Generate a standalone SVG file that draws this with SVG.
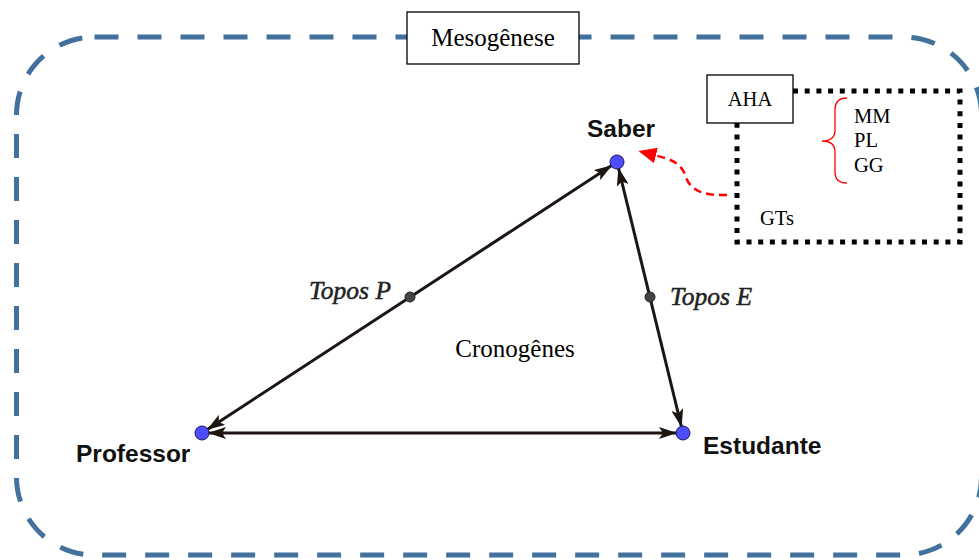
<svg xmlns="http://www.w3.org/2000/svg" width="979" height="559" viewBox="0 0 979 559">
<style>
.tnr{font-family:"Liberation Serif","Times New Roman",serif;fill:#000}
.lab{font-family:"Liberation Sans",Arial,sans-serif;font-weight:bold;font-size:24.5px;fill:#111}
.topos{font-family:"Liberation Serif","Times New Roman",serif;font-style:italic;font-size:25.5px;fill:#222;stroke:#222;stroke-width:0.5}
.edge{stroke:#1c1512;stroke-width:3;fill:none;marker-start:url(#ah);marker-end:url(#ah)}
.pt{fill:#4d4dff;stroke:#1a1a55;stroke-width:1}
.mid{fill:#444;stroke:#222;stroke-width:1}
</style>
<defs>
<marker id="ah" viewBox="0 0 18 12" refX="24" refY="6" markerWidth="18" markerHeight="12" markerUnits="userSpaceOnUse" orient="auto-start-reverse">
<path d="M0,0 L18,6 L0,12 L4,6 Z" fill="#1c1512"/>
</marker>
<marker id="rh" viewBox="0 0 18 16" refX="2" refY="8" markerWidth="18" markerHeight="16" markerUnits="userSpaceOnUse" orient="auto">
<path d="M0,0 L18,8 L0,16 Z" fill="#ff0000"/>
</marker>
</defs>
<rect width="979" height="559" fill="#fff"/>
<g id="mesogenese-frame">
<rect x="16.5" y="37" width="965" height="518" rx="78" ry="78" fill="none" stroke="#41719c" stroke-width="5" stroke-dasharray="24 19"/>
</g>
<g id="mesogenese-label">
<rect x="407" y="12" width="172" height="52" fill="#fff" stroke="#000" stroke-width="1.3"/>
<text class="tnr" x="493" y="46" font-size="25" text-anchor="middle">Mesogênese</text>
</g>
<g id="aha-region">
<path d="M793 91 H960 V242 H737 V123" fill="none" stroke="#000" stroke-width="5" stroke-dasharray="5 6.7"/>
<rect x="707" y="75" width="86" height="48" fill="#fff" stroke="#000" stroke-width="1.3"/>
<text class="tnr" x="750" y="106" font-size="20.5" text-anchor="middle">AHA</text>
<path d="M847 98 Q835 98 835 110 L835 130 Q835 141 822 141 Q835 141 835 152 L835 172 Q835 183 847 183" fill="none" stroke="#ff0000" stroke-width="1.3"/>
<text class="tnr" x="854" y="123" font-size="20.5">MM</text>
<text class="tnr" x="854" y="147" font-size="20.5">PL</text>
<text class="tnr" x="854" y="172" font-size="20.5">GG</text>
<text class="tnr" x="760" y="225" font-size="20.5">GTs</text>
</g>
<g id="connectors">
<line class="edge" x1="202" y1="433" x2="617" y2="162"/>
<line class="edge" x1="683" y1="433" x2="617" y2="162"/>
<line class="edge" x1="202" y1="433" x2="683" y2="433"/>
<path d="M727 195 C703 196 690 190 686 177 C681 162 670 159 654 155" fill="none" stroke="#ff0000" stroke-width="2.5" stroke-dasharray="8 5" marker-end="url(#rh)"/>
</g>
<g id="saber">
<circle class="pt" cx="617" cy="162" r="7"/>
<text class="lab" x="621" y="137" text-anchor="middle">Saber</text>
</g>
<g id="professor">
<circle class="pt" cx="202" cy="433" r="7"/>
<text class="lab" x="76" y="462">Professor</text>
</g>
<g id="estudante">
<circle class="pt" cx="683" cy="433" r="7"/>
<text class="lab" x="703" y="454">Estudante</text>
</g>
<g id="topos-p">
<circle class="mid" cx="410" cy="297" r="5"/>
<text class="topos" x="309" y="299">Topos P</text>
</g>
<g id="topos-e">
<circle class="mid" cx="650" cy="297" r="5"/>
<text class="topos" x="670" y="305">Topos E</text>
</g>
<g id="cronogenes">
<text class="tnr" x="515" y="357" font-size="25" text-anchor="middle">Cronogênes</text>
</g>
</svg>
